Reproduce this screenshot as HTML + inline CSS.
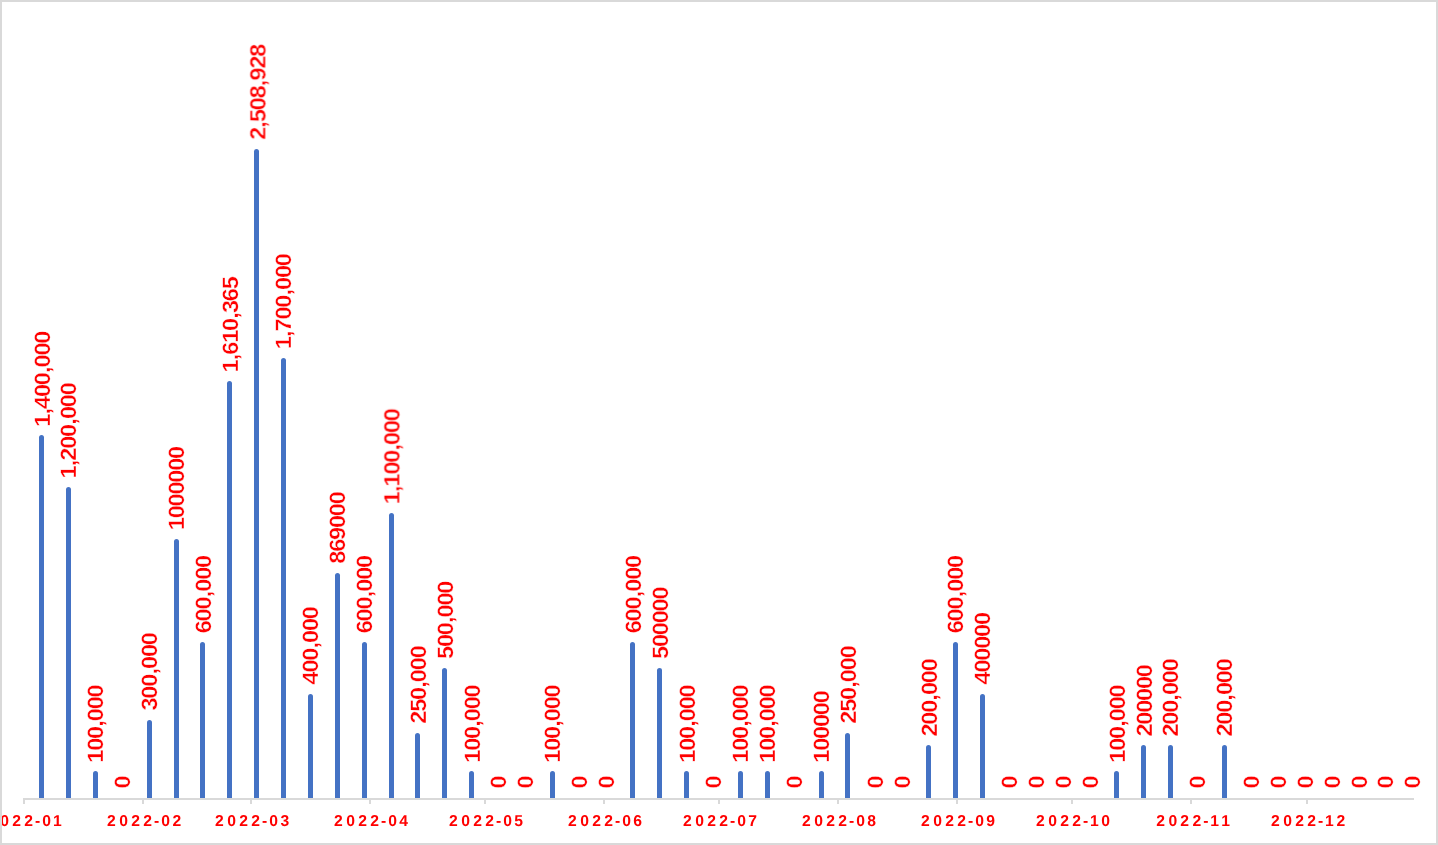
<!DOCTYPE html>
<html lang="en"><head><meta charset="utf-8"><title>Chart</title>
<style>
html,body{margin:0;padding:0;background:#fff;}
body{width:1438px;height:845px;overflow:hidden;}
svg{display:block;text-rendering:geometricPrecision;}
.dl,.xl{will-change:transform;}
.dl{font-family:"Liberation Sans",sans-serif;font-weight:700;font-size:22.2px;fill:#ff0000;}
.xl{font-family:"Liberation Sans",sans-serif;font-weight:700;font-size:15.7px;fill:#ff0000;}
</style></head><body>
<svg width="1438" height="845" viewBox="0 0 1438 845">
<rect x="0" y="0" width="1438" height="845" fill="#ffffff"/>
<g fill="#4472c4">
<path d="M39 799 V437.5 A2.5 2.5 0 0 1 44 437.5 V799 Z"/>
<path d="M66 799 V489.5 A2.5 2.5 0 0 1 71 489.5 V799 Z"/>
<path d="M93 799 V773.5 A2.5 2.5 0 0 1 98 773.5 V799 Z"/>
<path d="M147 799 V722.5 A2.5 2.5 0 0 1 152 722.5 V799 Z"/>
<path d="M174 799 V541.5 A2.5 2.5 0 0 1 179 541.5 V799 Z"/>
<path d="M200 799 V644.5 A2.5 2.5 0 0 1 205 644.5 V799 Z"/>
<path d="M227 799 V383.5 A2.5 2.5 0 0 1 232 383.5 V799 Z"/>
<path d="M254 799 V151.5 A2.5 2.5 0 0 1 259 151.5 V799 Z"/>
<path d="M281 799 V360.5 A2.5 2.5 0 0 1 286 360.5 V799 Z"/>
<path d="M308 799 V696.5 A2.5 2.5 0 0 1 313 696.5 V799 Z"/>
<path d="M335 799 V575.5 A2.5 2.5 0 0 1 340 575.5 V799 Z"/>
<path d="M362 799 V644.5 A2.5 2.5 0 0 1 367 644.5 V799 Z"/>
<path d="M389 799 V515.5 A2.5 2.5 0 0 1 394 515.5 V799 Z"/>
<path d="M415 799 V735.5 A2.5 2.5 0 0 1 420 735.5 V799 Z"/>
<path d="M442 799 V670.5 A2.5 2.5 0 0 1 447 670.5 V799 Z"/>
<path d="M469 799 V773.5 A2.5 2.5 0 0 1 474 773.5 V799 Z"/>
<path d="M550 799 V773.5 A2.5 2.5 0 0 1 555 773.5 V799 Z"/>
<path d="M630 799 V644.5 A2.5 2.5 0 0 1 635 644.5 V799 Z"/>
<path d="M657 799 V670.5 A2.5 2.5 0 0 1 662 670.5 V799 Z"/>
<path d="M684 799 V773.5 A2.5 2.5 0 0 1 689 773.5 V799 Z"/>
<path d="M738 799 V773.5 A2.5 2.5 0 0 1 743 773.5 V799 Z"/>
<path d="M765 799 V773.5 A2.5 2.5 0 0 1 770 773.5 V799 Z"/>
<path d="M819 799 V773.5 A2.5 2.5 0 0 1 824 773.5 V799 Z"/>
<path d="M845 799 V735.5 A2.5 2.5 0 0 1 850 735.5 V799 Z"/>
<path d="M926 799 V747.5 A2.5 2.5 0 0 1 931 747.5 V799 Z"/>
<path d="M953 799 V644.5 A2.5 2.5 0 0 1 958 644.5 V799 Z"/>
<path d="M980 799 V696.5 A2.5 2.5 0 0 1 985 696.5 V799 Z"/>
<path d="M1114 799 V773.5 A2.5 2.5 0 0 1 1119 773.5 V799 Z"/>
<path d="M1141 799 V747.5 A2.5 2.5 0 0 1 1146 747.5 V799 Z"/>
<path d="M1168 799 V747.5 A2.5 2.5 0 0 1 1173 747.5 V799 Z"/>
<path d="M1222 799 V747.5 A2.5 2.5 0 0 1 1227 747.5 V799 Z"/>
</g>
<g fill="#d9d9d9">
<rect x="23" y="798" width="1391" height="2"/>
<rect x="23" y="798" width="2" height="6"/>
<rect x="142" y="798" width="2" height="6"/>
<rect x="250" y="798" width="2" height="6"/>
<rect x="369" y="798" width="2" height="6"/>
<rect x="484" y="798" width="2" height="6"/>
<rect x="603" y="798" width="2" height="6"/>
<rect x="718" y="798" width="2" height="6"/>
<rect x="837" y="798" width="2" height="6"/>
<rect x="956" y="798" width="2" height="6"/>
<rect x="1071" y="798" width="2" height="6"/>
<rect x="1190" y="798" width="2" height="6"/>
<rect x="1306" y="798" width="2" height="6"/>
</g>
<g class="dl" stroke="#ffffff" stroke-width="0.35" stroke-linejoin="round">
<text transform="translate(50.47 425.14) rotate(-90) scale(1.06 1)" x="-1.56 9.93 15.24 26.45 37.65 49.14 54.46 65.66 76.87">1,400,000</text>
<text transform="translate(76.47 476.82) rotate(-90) scale(1.06 1)" x="-1.56 9.93 15.24 26.45 37.65 49.14 54.46 65.66 76.87">1,200,000</text>
<text transform="translate(103.47 761.06) rotate(-90) scale(1.06 1)" x="-1.56 9.64 20.85 32.34 37.65 48.86 60.07">100,000</text>
<text transform="translate(130.48 787.3) rotate(-90) scale(1.06 1)" x="-1.04">0</text>
<text transform="translate(157.48 709.78) rotate(-90) scale(1.06 1)" x="-0.67 10.53 21.74 33.23 38.54 49.75 60.96">300,000</text>
<text transform="translate(184.48 528.5) rotate(-90) scale(1.06 1)" x="-1.56 9.64 20.85 32.06 43.27 54.47 65.68">1000000</text>
<text transform="translate(211.48 632.26) rotate(-90) scale(1.06 1)" x="-0.98 10.23 21.44 32.93 38.24 49.45 60.65">600,000</text>
<text transform="translate(238.48 370.78) rotate(-90) scale(1.06 1)" x="-1.56 9.93 15.24 26.45 37.65 49.14 54.46 65.66 76.87">1,610,365</text>
<text transform="translate(265.48 138.99) rotate(-90) scale(1.06 1)" x="-0.93 10.56 15.87 27.07 38.28 49.77 55.08 66.29 77.5">2,508,928</text>
<text transform="translate(291.48 347.62) rotate(-90) scale(1.06 1)" x="-1.56 9.93 15.24 26.45 37.65 49.14 54.46 65.66 76.87">1,700,000</text>
<text transform="translate(318.48 683.94) rotate(-90) scale(1.06 1)" x="-0.5 10.71 21.91 33.4 38.72 49.92 61.13">400,000</text>
<text transform="translate(345.48 562.75) rotate(-90) scale(1.06 1)" x="-0.87 10.34 21.55 32.75 43.96 55.17">869000</text>
<text transform="translate(372.48 632.26) rotate(-90) scale(1.06 1)" x="-0.98 10.23 21.44 32.93 38.24 49.45 60.65">600,000</text>
<text transform="translate(399.48 502.66) rotate(-90) scale(1.06 1)" x="-1.56 9.93 15.24 26.45 37.65 49.14 54.46 65.66 76.87">1,100,000</text>
<text transform="translate(426.48 722.7) rotate(-90) scale(1.06 1)" x="-0.93 10.27 21.48 32.97 38.28 49.49 60.7">250,000</text>
<text transform="translate(453.48 658.1) rotate(-90) scale(1.06 1)" x="-0.85 10.36 21.57 33.06 38.37 49.58 60.78">500,000</text>
<text transform="translate(480.48 761.06) rotate(-90) scale(1.06 1)" x="-1.56 9.64 20.85 32.34 37.65 48.86 60.07">100,000</text>
<text transform="translate(506.48 787.3) rotate(-90) scale(1.06 1)" x="-1.04">0</text>
<text transform="translate(533.47 787.3) rotate(-90) scale(1.06 1)" x="-1.04">0</text>
<text transform="translate(560.47 761.06) rotate(-90) scale(1.06 1)" x="-1.56 9.64 20.85 32.34 37.65 48.86 60.07">100,000</text>
<text transform="translate(587.47 787.3) rotate(-90) scale(1.06 1)" x="-1.04">0</text>
<text transform="translate(614.47 787.3) rotate(-90) scale(1.06 1)" x="-1.04">0</text>
<text transform="translate(641.47 632.26) rotate(-90) scale(1.06 1)" x="-0.98 10.23 21.44 32.93 38.24 49.45 60.65">600,000</text>
<text transform="translate(668.47 658.1) rotate(-90) scale(1.06 1)" x="-0.85 10.36 21.57 32.77 43.98 55.19">500000</text>
<text transform="translate(695.47 761.06) rotate(-90) scale(1.06 1)" x="-1.56 9.64 20.85 32.34 37.65 48.86 60.07">100,000</text>
<text transform="translate(721.47 787.3) rotate(-90) scale(1.06 1)" x="-1.04">0</text>
<text transform="translate(748.47 761.06) rotate(-90) scale(1.06 1)" x="-1.56 9.64 20.85 32.34 37.65 48.86 60.07">100,000</text>
<text transform="translate(775.47 761.06) rotate(-90) scale(1.06 1)" x="-1.56 9.64 20.85 32.34 37.65 48.86 60.07">100,000</text>
<text transform="translate(802.47 787.3) rotate(-90) scale(1.06 1)" x="-1.04">0</text>
<text transform="translate(829.47 761.06) rotate(-90) scale(1.06 1)" x="-1.56 9.64 20.85 32.06 43.27 54.47">100000</text>
<text transform="translate(856.47 722.7) rotate(-90) scale(1.06 1)" x="-0.93 10.27 21.48 32.97 38.28 49.49 60.7">250,000</text>
<text transform="translate(883.47 787.3) rotate(-90) scale(1.06 1)" x="-1.04">0</text>
<text transform="translate(910.47 787.3) rotate(-90) scale(1.06 1)" x="-1.04">0</text>
<text transform="translate(937.47 735.62) rotate(-90) scale(1.06 1)" x="-0.93 10.27 21.48 32.97 38.28 49.49 60.7">200,000</text>
<text transform="translate(963.47 632.26) rotate(-90) scale(1.06 1)" x="-0.98 10.23 21.44 32.93 38.24 49.45 60.65">600,000</text>
<text transform="translate(990.47 683.94) rotate(-90) scale(1.06 1)" x="-0.5 10.71 21.91 33.12 44.33 55.54">400000</text>
<text transform="translate(1017.47 787.3) rotate(-90) scale(1.06 1)" x="-1.04">0</text>
<text transform="translate(1044.47 787.3) rotate(-90) scale(1.06 1)" x="-1.04">0</text>
<text transform="translate(1071.47 787.3) rotate(-90) scale(1.06 1)" x="-1.04">0</text>
<text transform="translate(1098.47 787.3) rotate(-90) scale(1.06 1)" x="-1.04">0</text>
<text transform="translate(1125.47 761.06) rotate(-90) scale(1.06 1)" x="-1.56 9.64 20.85 32.34 37.65 48.86 60.07">100,000</text>
<text transform="translate(1152.47 735.62) rotate(-90) scale(1.06 1)" x="-0.93 10.27 21.48 32.69 43.9 55.1">200000</text>
<text transform="translate(1178.47 735.62) rotate(-90) scale(1.06 1)" x="-0.93 10.27 21.48 32.97 38.28 49.49 60.7">200,000</text>
<text transform="translate(1205.47 787.3) rotate(-90) scale(1.06 1)" x="-1.04">0</text>
<text transform="translate(1232.47 735.62) rotate(-90) scale(1.06 1)" x="-0.93 10.27 21.48 32.97 38.28 49.49 60.7">200,000</text>
<text transform="translate(1259.47 787.3) rotate(-90) scale(1.06 1)" x="-1.04">0</text>
<text transform="translate(1286.47 787.3) rotate(-90) scale(1.06 1)" x="-1.04">0</text>
<text transform="translate(1313.47 787.3) rotate(-90) scale(1.06 1)" x="-1.04">0</text>
<text transform="translate(1340.47 787.3) rotate(-90) scale(1.06 1)" x="-1.04">0</text>
<text transform="translate(1367.47 787.3) rotate(-90) scale(1.06 1)" x="-1.04">0</text>
<text transform="translate(1393.47 787.3) rotate(-90) scale(1.06 1)" x="-1.04">0</text>
<text transform="translate(1420.47 787.3) rotate(-90) scale(1.06 1)" x="-1.04">0</text>
</g>
<g class="xl" transform="translate(0 826) scale(1 1)">
<text y="0" x="-11.92 0.25 12.13 24.18 34.99 42.25 53.06">2022-01</text>
<text y="0" x="107.08 119.25 131.13 143.18 153.99 161.25 172.38">2022-02</text>
<text y="0" x="215.08 227.25 239.13 251.18 261.99 269.25 280.44">2022-03</text>
<text y="0" x="334.08 346.25 358.13 370.18 380.99 388.25 399.26">2022-04</text>
<text y="0" x="449.08 461.25 473.13 485.18 495.99 503.25 514.31">2022-05</text>
<text y="0" x="568.08 580.25 592.13 604.18 614.99 622.25 633.33">2022-06</text>
<text y="0" x="683.08 695.25 707.13 719.18 729.99 737.25 748.34">2022-07</text>
<text y="0" x="802.08 814.25 826.13 838.18 848.99 856.25 867.33">2022-08</text>
<text y="0" x="921.08 933.25 945.13 957.18 967.99 975.25 986.35">2022-09</text>
<text y="0" x="1036.08 1048.25 1060.13 1072.18 1082.99 1089.96 1101.35">2022-10</text>
<text y="0" x="1156.28 1168.45 1180.33 1192.38 1203.19 1210.16 1221.26">2022-11</text>
<text y="0" x="1271.08 1283.25 1295.13 1307.18 1317.99 1324.96 1336.38">2022-12</text>
</g>
<rect x="1" y="1" width="1436" height="843" fill="none" stroke="#d9d9d9" stroke-width="2"/>
</svg>
</body></html>
